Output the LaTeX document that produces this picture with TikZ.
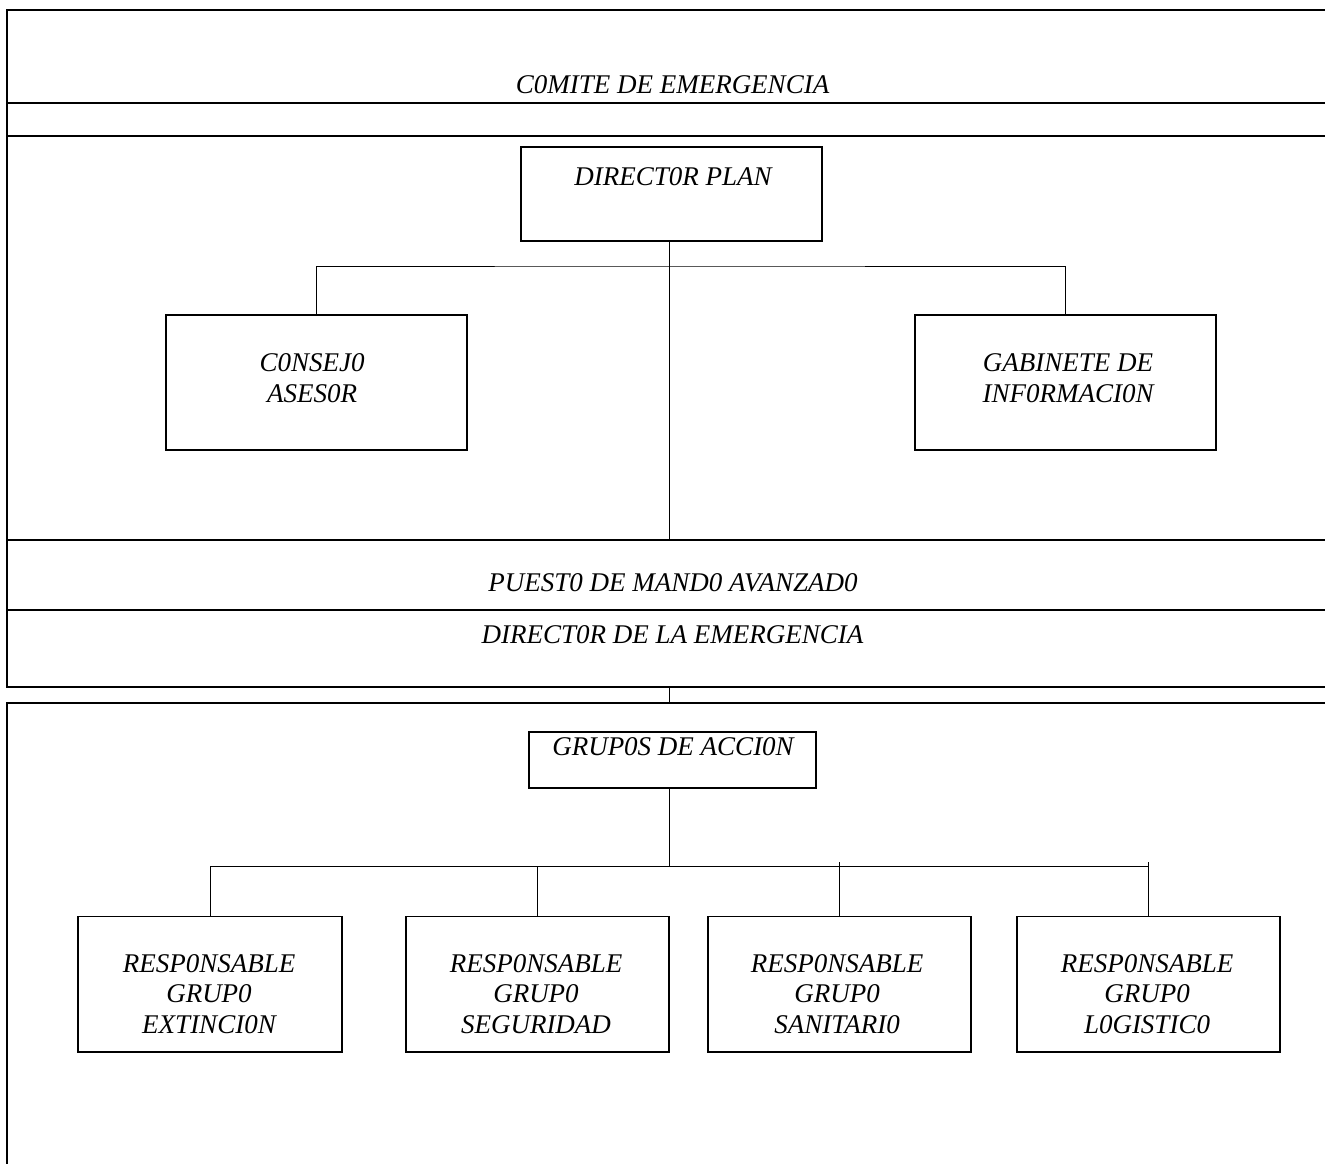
\documentclass[tikz,border=0pt]{standalone}
\usepackage{fontspec}
\setmainfont{Liberation Serif}
\begin{document}
\begin{tikzpicture}[x=1pt,y=-1pt,
  frame/.style={line width=1.8pt},
  box/.style={draw, line width=1.3pt, inner sep=0pt},
  conn/.style={line width=1pt},
  txt/.style={font=\fontsize{27}{30.5}\selectfont\itshape, inner sep=0pt, align=center}]
\useasboundingbox (0,0) rectangle (1325,1163);
\clip (0,0) rectangle (1325,1163);
% frame, upper part
\draw[frame] (1330,10) -- (7,10) -- (7,686.7) -- (1330,686.7);
\draw[frame] (7,103) -- (1330,103);
\draw[frame] (7,136) -- (1330,136);
\draw[frame] (7,540) -- (1330,540);
\draw[frame] (7,610) -- (1330,610);
% frame, lower part
\draw[frame] (1330,703.3) -- (7,703.3) -- (7,1170);
% section texts
\node[txt, anchor=base] (comite) at (672.5,93) {C0MITE DE EMERGENCIA};
\node[txt, anchor=base] (pma) at (673,591) {PUEST0 DE MAND0 AVANZAD0};
\node[txt, anchor=base] (direm) at (672.5,643) {DIRECT0R DE LA EMERGENCIA};
% boxes
\node[box, minimum width=301pt, minimum height=94pt] (dp) at (671.5,194) {};
\node[box, minimum width=301pt, minimum height=135pt] (cons) at (316.5,382.5) {};
\node[box, minimum width=301pt, minimum height=135pt] (gab) at (1065.5,382.5) {};
\node[box, minimum width=287pt, minimum height=56pt] (ga) at (672.5,760) {};
\node[box, minimum width=264pt, minimum height=135.5pt] (r1) at (210,984.2) {};
\node[box, minimum width=263pt, minimum height=135.5pt] (r2) at (537.5,984.2) {};
\node[box, minimum width=263pt, minimum height=135.5pt] (r3) at (839.5,984.2) {};
\node[box, minimum width=263pt, minimum height=135.5pt] (r4) at (1148.5,984.2) {};
% box texts (anchor base = baseline of last line)
\node[txt, anchor=base] (dpt) at (673,185) {DIRECT0R PLAN};
\node[txt, anchor=base] (gat) at (673,755) {GRUP0S DE ACCI0N};
\node[txt, anchor=base] (const) at (312,402) {C0NSEJ0\\ASES0R};
\node[txt, anchor=base] (gabt) at (1068,402) {GABINETE DE\\INF0RMACI0N};
\node[txt, anchor=base] (r1t) at (209,1033) {RESP0NSABLE\\GRUP0\\EXTINCI0N};
\node[txt, anchor=base] (r2t) at (536,1033) {RESP0NSABLE\\GRUP0\\SEGURIDAD};
\node[txt, anchor=base] (r3t) at (837,1033) {RESP0NSABLE\\GRUP0\\SANITARI0};
\node[txt, anchor=base] (r4t) at (1147,1033) {RESP0NSABLE\\GRUP0\\L0GISTIC0};
% connector points
\coordinate (sp1) at (669,540);
\coordinate (br1) at (669,266);
\coordinate (s1) at (669,686.7);
\coordinate (s2) at (669,703.3);
\coordinate (br2) at (669,866);
% connectors
\draw[conn] (dp.south -| sp1) -- (sp1);
\draw[conn] (cons.north) |- (br1) -| (gab.north);
\draw[conn] (s1) -- (s2);
\draw[conn] (ga.south -| br2) -- (br2);
\draw[conn] (r1.north) |- (r4.north |- br2);
\draw[conn] (r2.north) -- (r2.north |- br2);
\draw[conn] (r3.north) -- ([yshift=4pt]r3.north |- br2);
\draw[conn] (r4.north) -- ([yshift=4pt]r4.north |- br2);
\end{tikzpicture}
\end{document}
